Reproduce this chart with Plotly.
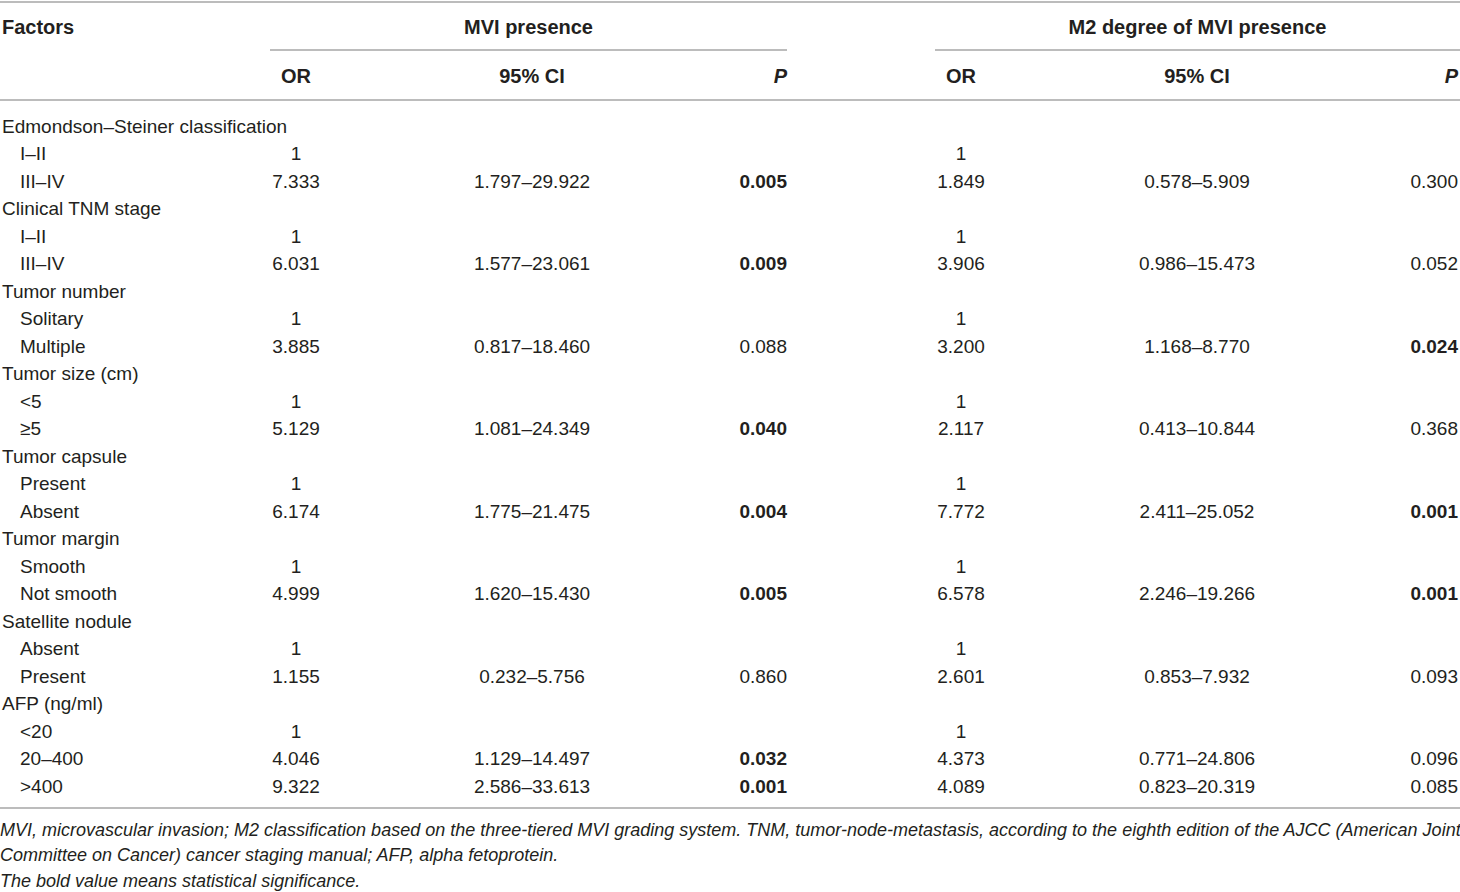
import plotly.graph_objects as go

# table content
factors = ["Edmondson–Steiner classification", "I–II", "III–IV",
           "Clinical TNM stage", "I–II", "III–IV",
           "Tumor number", "Solitary", "Multiple",
           "Tumor size (cm)", "<5", "≥5",
           "Tumor capsule", "Present", "Absent",
           "Tumor margin", "Smooth", "Not smooth",
           "Satellite nodule", "Absent", "Present",
           "AFP (ng/ml)", "<20", "20–400", ">400"]
is_sub = [0, 1, 1, 0, 1, 1, 0, 1, 1, 0, 1, 1, 0, 1, 1, 0, 1, 1, 0, 1, 1, 0, 1, 1, 1]

mvi_or = ["", "1", "7.333", "", "1", "6.031", "", "1", "3.885", "", "1", "5.129",
          "", "1", "6.174", "", "1", "4.999", "", "1", "1.155", "", "1", "4.046", "9.322"]
mvi_ci = ["", "", "1.797–29.922", "", "", "1.577–23.061", "", "", "0.817–18.460",
          "", "", "1.081–24.349", "", "", "1.775–21.475", "", "", "1.620–15.430",
          "", "", "0.232–5.756", "", "", "1.129–14.497", "2.586–33.613"]
mvi_p = ["", "", "0.005", "", "", "0.009", "", "", "0.088", "", "", "0.040",
         "", "", "0.004", "", "", "0.005", "", "", "0.860", "", "", "0.032", "0.001"]

m2_or = ["", "1", "1.849", "", "1", "3.906", "", "1", "3.200", "", "1", "2.117",
         "", "1", "7.772", "", "1", "6.578", "", "1", "2.601", "", "1", "4.373", "4.089"]
m2_ci = ["", "", "0.578–5.909", "", "", "0.986–15.473", "", "", "1.168–8.770",
         "", "", "0.413–10.844", "", "", "2.411–25.052", "", "", "2.246–19.266",
         "", "", "0.853–7.932", "", "", "0.771–24.806", "0.823–20.319"]
m2_p = ["", "", "0.300", "", "", "0.052", "", "", "0.024", "", "", "0.368",
        "", "", "0.001", "", "", "0.001", "", "", "0.093", "", "", "0.096", "0.085"]

group_titles = ["MVI presence", "M2 degree of MVI presence"]
sub_headers = ["OR", "95% CI", "<i>P</i>"]

footnotes = [
    "MVI, microvascular invasion; M2 classification based on the three-tiered MVI grading system. "
    "TNM, tumor-node-metastasis, according to the eighth edition of the AJCC (American Joint",
    "Committee on Cancer) cancer staging manual; AFP, alpha fetoprotein.",
    "The bold value means statistical significance.",
]

FONT = "Liberation Sans, Arial, sans-serif"
TXT = "#231f20"
RULE = "#a6a6a6"
FS = 19
FS_HEAD = 20

# layout of the grid (pixel-like units on the axes)
W, H = 1460, 892
y_head, y_sub = 29, 78
row0, row_step = 128, 27.5
foot0, foot_step = 831, 25.5
x_label, x_indent = 2, 20
x_or = [296, 961]
x_ci = [532, 1197]
x_p = [787, 1458]
group_span = [(270, 787), (935, 1460)]


def pval(s):
    if s and float(s) < 0.05:
        return "<b>" + s + "</b>"
    return s


rows_y = [row0 + i * row_step for i in range(len(factors))]
foot_y = [foot0 + i * foot_step for i in range(len(footnotes))]

fig = go.Figure()


def add_text(xs, ys, texts, pos, size=FS, color=TXT):
    fig.add_trace(go.Scatter(
        x=xs, y=ys, text=texts, mode="text", textposition=pos,
        textfont=dict(family=FONT, size=size, color=color),
        hoverinfo="skip", showlegend=False))


# header
add_text([x_label], [y_head], ["<b>Factors</b>"], "middle right", size=FS_HEAD)
add_text([(a + b) / 2 for a, b in group_span], [y_head, y_head],
         ["<b>" + t + "</b>" for t in group_titles], "middle center", size=FS_HEAD)
for g in range(2):
    add_text([x_or[g], x_ci[g]], [y_sub, y_sub],
             ["<b>" + sub_headers[0] + "</b>", "<b>" + sub_headers[1] + "</b>"],
             "middle center", size=FS_HEAD)
    add_text([x_p[g]], [y_sub], ["<b>" + sub_headers[2] + "</b>"], "middle left", size=FS_HEAD)

# body
add_text([x_indent if s else x_label for s in is_sub], rows_y, factors, "middle right")
for g, (ors, cis, ps) in enumerate([(mvi_or, mvi_ci, mvi_p), (m2_or, m2_ci, m2_p)]):
    add_text([x_or[g]] * len(ors), rows_y, ors, "middle center")
    add_text([x_ci[g]] * len(cis), rows_y, cis, "middle center")
    add_text([x_p[g]] * len(ps), rows_y, [pval(p) for p in ps], "middle left")

# footnotes
add_text([0] * len(footnotes), foot_y,
         ["<i>" + f + "</i>" for f in footnotes], "middle right", size=18)

# rules
for y in [2, 100, 808]:
    fig.add_shape(type="line", x0=0, x1=W, y0=y, y1=y, line=dict(color=RULE, width=1.5))
for a, b in group_span:
    fig.add_shape(type="line", x0=a, x1=b, y0=50, y1=50, line=dict(color=RULE, width=1.5))

fig.update_layout(
    width=W, height=H,
    margin=dict(l=0, r=0, t=0, b=0),
    paper_bgcolor="white", plot_bgcolor="white",
    xaxis=dict(range=[0, W], visible=False, fixedrange=True),
    yaxis=dict(range=[H, 0], visible=False, fixedrange=True),
)

# the page body has a default 8px margin; drop it so the figure fills the window
fig.write_html("out.html", config={"displayModeBar": False},
               post_script="document.body.style.margin='0';document.body.style.overflow='hidden';")
